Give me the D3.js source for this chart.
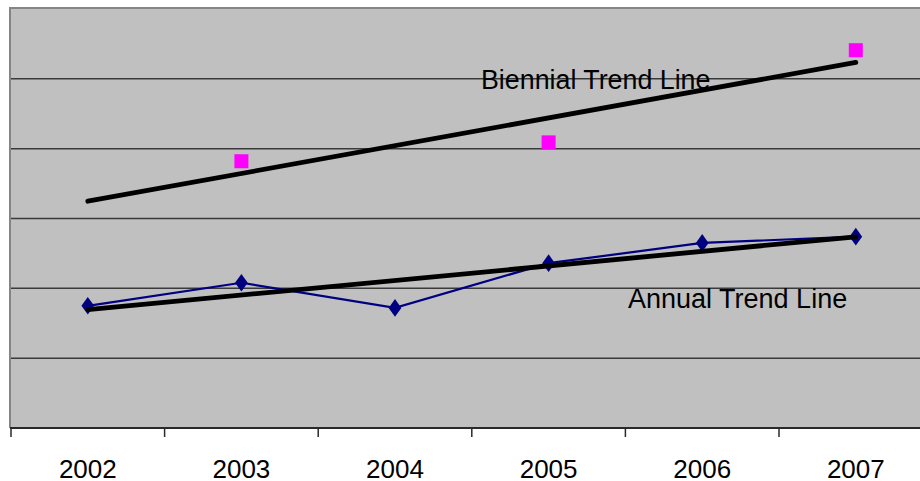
<!DOCTYPE html>
<html>
<head>
<meta charset="utf-8">
<script src="https://cdn.jsdelivr.net/npm/d3@7"></script>
<style>
  body { margin: 0; background: #fff; }
  svg { display: block; font-family: "Liberation Sans", Arial, sans-serif; }
</style>
</head>
<body>
<svg id="chart" width="920" height="481"></svg>
<script>
// anni sull'asse x
const years = ['2002', '2003', '2004', '2005', '2006', '2007']
// serie annuale (tutti gli anni)
const annualValues = [17.5, 20.8, 17.2, 23.6, 26.5, 27.4]
// serie biennale (solo anni dispari)
const biennialYears = ['2003', '2005', '2007']
const biennialValues = [38.2, 40.9, 54.1]
// linee di griglia orizzontali
const gridTicks = [0, 10, 20, 30, 40, 50, 60]

const svg = d3.select('#chart')
const plotColor = '#c0c0c0'

const plotLeft = 11, plotTop = 9, plotBottom = 428, plotRight = 932.6

const xScale = d3.scaleBand()
  .domain(years)
  .range([plotLeft, plotRight])
  .padding(0)

const yScale = d3.scaleLinear()
  .domain([0, 60])
  .range([plotBottom, plotTop])

const cx = d => xScale(d) + xScale.bandwidth() / 2

// area del grafico
svg.append('rect')
  .attr('x', plotLeft)
  .attr('y', plotTop)
  .attr('width', plotRight - plotLeft)
  .attr('height', plotBottom - plotTop)
  .attr('fill', plotColor)

// bordo superiore e sinistro
svg.append('path')
  .attr('d', `M${plotLeft - 1},${plotBottom}V${plotTop - 1}H${plotRight}`)
  .attr('fill', 'none')
  .attr('stroke', '#858585')
  .attr('stroke-width', 2)

// griglia
svg.append('g')
  .selectAll('line')
  .data(gridTicks.slice(1, -1))
  .join('line')
  .attr('x1', plotLeft)
  .attr('x2', plotRight)
  .attr('y1', d => yScale(d))
  .attr('y2', d => yScale(d))
  .attr('stroke', '#3a3a3a')
  .attr('stroke-width', 1.5)

// asse x con etichette
const xAxisGroup = svg.append('g')
  .attr('transform', `translate(0, ${plotBottom})`)
  .call(d3.axisBottom(xScale).tickSize(0).tickPadding(0))

xAxisGroup.select('path.domain').remove()
xAxisGroup.selectAll('.tick text')
  .attr('fill', '#000')
  .attr('y', 50)
  .attr('dy', null)
  .style('font-size', '26px')

xAxisGroup.append('line')
  .attr('x1', plotLeft - 1)
  .attr('x2', plotRight)
  .attr('stroke', '#2a2a2a')
  .attr('stroke-width', 2)

// tacche ai confini delle categorie
xAxisGroup.selectAll('line.sep')
  .data(years.concat(['end']))
  .join('line')
  .attr('class', 'sep')
  .attr('x1', (d, i) => plotLeft + i * xScale.step())
  .attr('x2', (d, i) => plotLeft + i * xScale.step())
  .attr('y1', 0)
  .attr('y2', 9)
  .attr('stroke', '#2a2a2a')
  .attr('stroke-width', 1.5)

// regressione lineare per le linee di tendenza
function trend(xs, ys) {
  const mx = d3.mean(xs), my = d3.mean(ys)
  const slope = d3.sum(xs, (x, i) => (x - mx) * (ys[i] - my)) / d3.sum(xs, x => (x - mx) ** 2)
  return x => my + slope * (x - mx)
}
const idx = y => years.indexOf(y)

const annualFit = trend(years.map(idx), annualValues)
const biennialFit = trend(biennialYears.map(idx), biennialValues)

const line = d3.line().x(d => d[0]).y(d => d[1])

// linea di tendenza biennale
svg.append('path')
  .attr('d', line([0, 5].map(i => [cx(years[i]), yScale(biennialFit(i))])))
  .attr('stroke', '#000')
  .attr('stroke-width', 4.8)
  .attr('stroke-linecap', 'round')
  .attr('fill', 'none')

// serie annuale
svg.append('path')
  .attr('d', line(years.map((y, i) => [cx(y), yScale(annualValues[i])])))
  .attr('stroke', '#000080')
  .attr('stroke-width', 2.2)
  .attr('fill', 'none')

svg.append('g')
  .selectAll('path')
  .data(years)
  .join('path')
  .attr('d', d3.symbol(d3.symbolDiamond, 90)())
  .attr('transform', (d, i) => `translate(${cx(d)},${yScale(annualValues[i])}) scale(1.25,1)`)
  .attr('fill', '#000080')

// linea di tendenza annuale
svg.append('path')
  .attr('d', line([0, 5].map(i => [cx(years[i]), yScale(annualFit(i))])))
  .attr('stroke', '#000')
  .attr('stroke-width', 4.8)
  .attr('stroke-linecap', 'round')
  .attr('fill', 'none')

// punti biennali
svg.append('g')
  .selectAll('rect')
  .data(biennialYears)
  .join('rect')
  .attr('x', d => cx(d) - 7)
  .attr('y', (d, i) => yScale(biennialValues[i]) - 7)
  .attr('width', 14)
  .attr('height', 14)
  .attr('fill', '#ff00ff')

// etichette
svg.append('text')
  .attr('x', 481)
  .attr('y', 89)
  .style('font-size', '26.8px')
  .attr('fill', '#000')
  .text('Biennial Trend Line')

svg.append('text')
  .attr('x', 628)
  .attr('y', 308)
  .style('font-size', '27px')
  .attr('fill', '#000')
  .text('Annual Trend Line')
</script>
</body>
</html>
